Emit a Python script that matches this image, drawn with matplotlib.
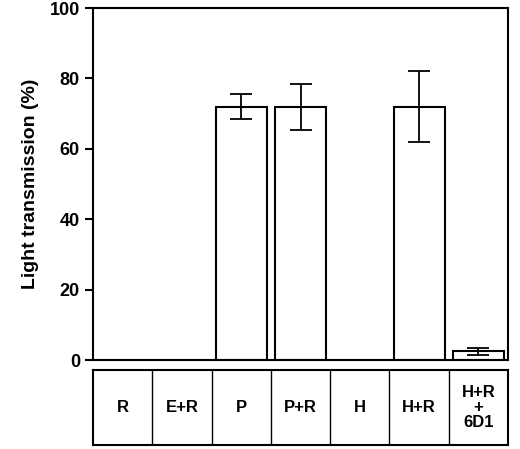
import matplotlib.pyplot as plt
import numpy as np

labels = ["R", "E+R", "P", "P+R", "H", "H+R", "H+R\n+\n6D1"]
values = [0, 0, 72, 72, 0, 72, 2.5]
errors = [0, 0, 3.5, 6.5, 0, 10, 1.0]

plt.rcParams['font.family'] = ['Liberation Sans', 'DejaVu Sans']
plt.rcParams['font.weight'] = 'bold'

fig = plt.figure(figsize=(5.2, 4.49), dpi=100)
ax = fig.add_axes([0.179, 0.198, 0.798, 0.784])
x = np.arange(len(labels))
mask = np.array(values) > 0
ax.bar(x[mask], np.array(values)[mask], width=0.86, color='white',
       edgecolor='black', linewidth=1.5)
ax.errorbar(x[mask], np.array(values)[mask], yerr=np.array(errors)[mask],
            fmt='none', ecolor='black', elinewidth=1.3, capsize=8, capthick=1.3)
ax.set_xlim(-0.5, len(labels) - 0.5)
ax.set_ylim(0, 100)
ax.set_yticks([0, 20, 40, 60, 80, 100])
ax.set_xticks([])
ax.tick_params(axis='y', direction='out', length=6, width=1.5, labelsize=13)
for s in ax.spines.values():
    s.set_linewidth(1.5)
ax.set_ylabel("Light transmission (%)", fontsize=14, fontweight='bold', labelpad=8)

tab = fig.add_axes([0.179, 0.009, 0.798, 0.167])
tab.set_xlim(-0.5, len(labels) - 0.5)
tab.set_ylim(0, 1)
tab.set_xticks([])
tab.set_yticks([])
for s in tab.spines.values():
    s.set_linewidth(1.5)
for i, lab in enumerate(labels):
    if i > 0:
        tab.axvline(i - 0.5, color='black', linewidth=1.0)
    tab.text(i, 0.5, lab, ha='center', va='center', fontsize=12,
             fontweight='bold', linespacing=1.0)

fig.savefig('out.png', dpi=100)
